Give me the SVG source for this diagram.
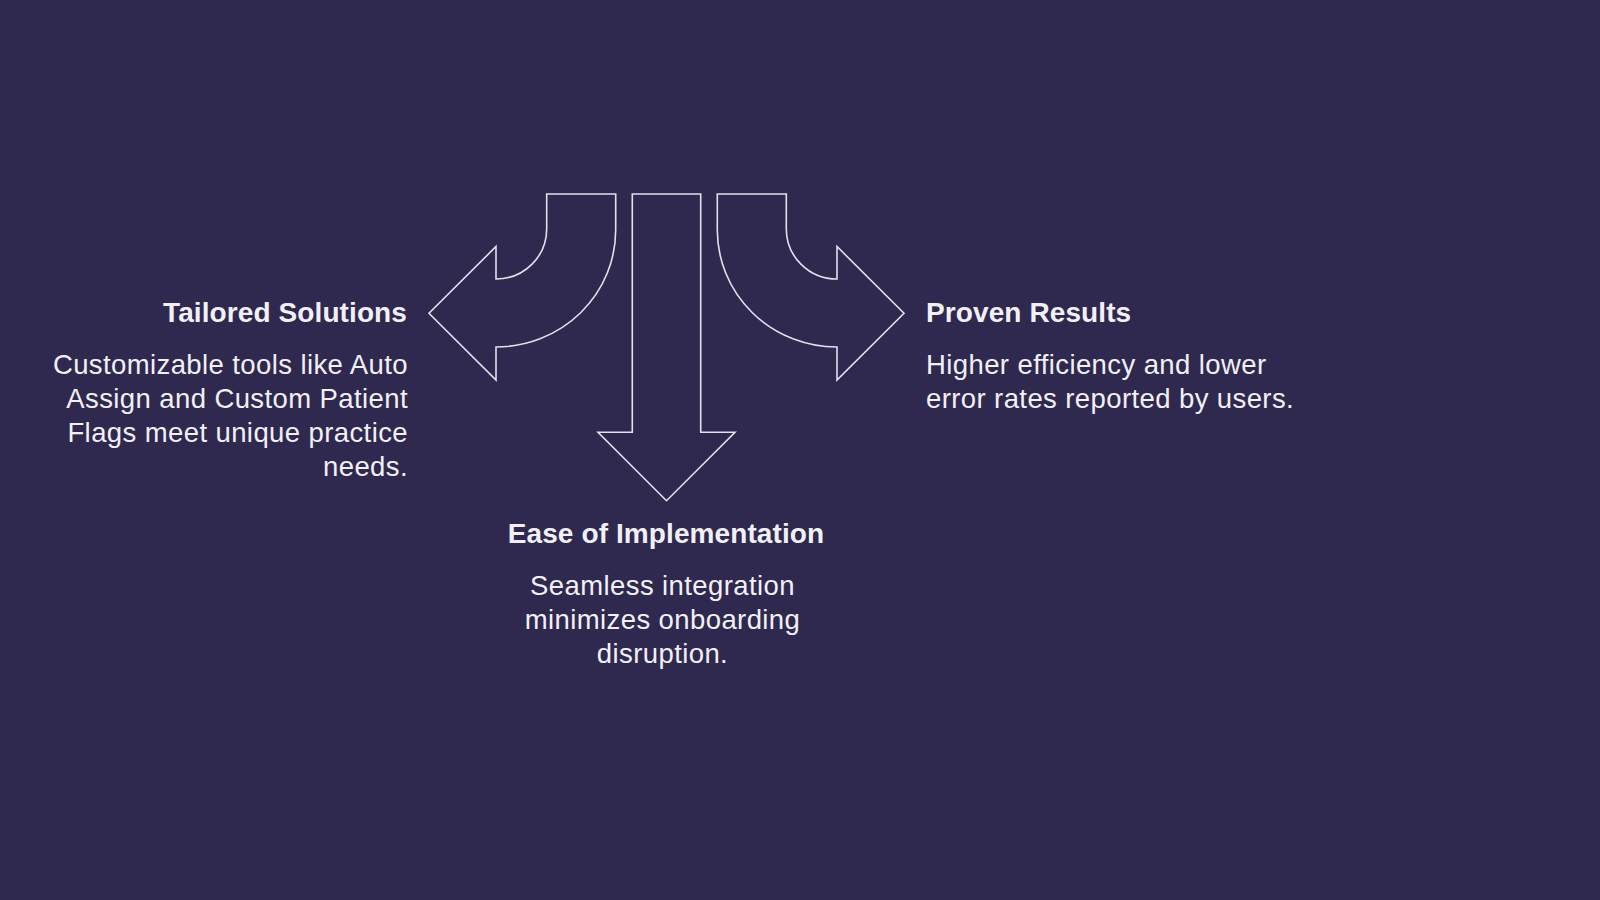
<svg xmlns="http://www.w3.org/2000/svg" width="1600" height="900" viewBox="0 0 1600 900">
<style>
.arrow{fill:none;stroke:#e4e0ee;stroke-width:1.6;stroke-linejoin:miter}
.title{font-family:"Liberation Sans",Arial,sans-serif;font-weight:bold;font-size:28px;letter-spacing:0.1px;fill:#f2f0f7}
.body{font-family:"Liberation Sans",Arial,sans-serif;font-size:27.5px;letter-spacing:0.4px;fill:#f2f0f7}
</style>
<rect width="1600" height="900" fill="#2f284f"/>
<g id="connectors">
<path id="arrow-left" class="arrow" d="M546.7 194 H615.7 V230 A119.7 117 0 0 1 496 347 V380 L429 313.3 L496 246.5 V279 A50.7 50 0 0 0 546.7 229 Z"/>
<path id="arrow-down" class="arrow" d="M632.3 194 H700.7 V432.3 H735 L666.5 500.7 L598 432.3 H632.3 Z"/>
<path id="arrow-right" class="arrow" d="M786.3 194 H717.3 V230 A119.7 117 0 0 0 837 347 V380 L904 313.3 L837 246.5 V279 A50.7 50 0 0 1 786.3 229 Z"/>
</g>
<g id="node-tailored">
<text class="title" x="407" y="322" text-anchor="end">Tailored Solutions</text>
<text class="body" text-anchor="end"><tspan x="408" y="374">Customizable tools like Auto</tspan><tspan x="408" y="408">Assign and Custom Patient</tspan><tspan x="408" y="442">Flags meet unique practice</tspan><tspan x="408" y="476">needs.</tspan></text>
</g>
<g id="node-ease">
<text class="title" x="666" y="543" text-anchor="middle">Ease of Implementation</text>
<text class="body" text-anchor="middle"><tspan x="662.5" y="595">Seamless integration</tspan><tspan x="662.5" y="629">minimizes onboarding</tspan><tspan x="662.5" y="663">disruption.</tspan></text>
</g>
<g id="node-proven">
<text class="title" x="926" y="322">Proven Results</text>
<text class="body"><tspan x="926" y="374">Higher efficiency and lower</tspan><tspan x="926" y="408">error rates reported by users.</tspan></text>
</g>
</svg>
